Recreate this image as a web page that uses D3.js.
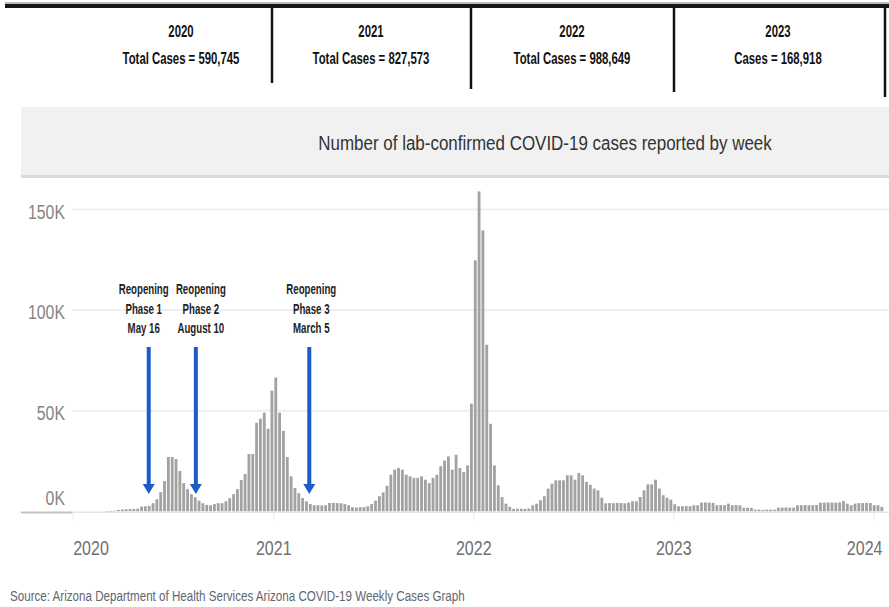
<!DOCTYPE html>
<html>
<head>
<meta charset="utf-8">
<script src="https://cdn.jsdelivr.net/npm/d3@7"></script>
<style>
  body { margin: 0; background: #fff; }
  svg { display: block; font-family: "Liberation Sans Narrow", "Arial Narrow", "Liberation Sans", Arial, sans-serif; }
</style>
</head>
<body>
<svg id="chart"></svg>
<script>
// ---- data ----
const firstWeek = "2020-03-01";   // week start of the first bar, one bar per week

const cases2020 = [20, 100, 300, 700, 900, 1000, 1100, 1200, 1300, 2300, 2500, 2700, 4000, 6000, 9500, 15000,
  27000, 27000, 26000, 20000, 14000, 11000, 8500, 7000, 5300, 4000, 3200, 3000, 3600, 4000, 4000, 5000,
  6500, 8500, 11000, 15500, 18500, 28500, 28500, 44000, 46000, 49000, 41000, 60000];
const cases2021 = [66500, 49000, 40000, 27000, 17400, 11600, 9000, 6600, 5000, 3600, 3000, 3000, 2900, 3000,
  4100, 4200, 4100, 4000, 3600, 3000, 2000, 1900, 2000, 2100, 2500, 3600, 5300, 7500, 9400, 12700, 18200,
  20700, 21500, 20700, 18200, 17400, 16600, 16600, 17400, 15700, 14000, 16600, 18200, 22400, 25200, 27300,
  20700, 28100, 21500, 19500, 22800, 53500];
const cases2022 = [124700, 159000, 139600, 82800, 43500, 22800, 12900, 7100, 3800, 2200, 1200, 1300, 1300,
  1200, 1400, 3000, 3800, 5500, 7500, 11300, 13700, 15400, 15400, 15400, 17900, 17900, 15700, 19000, 17900,
  14600, 13200, 11300, 10400, 6800, 4000, 4100, 4000, 4200, 4100, 4000, 4300, 5000, 5000, 7100, 10400,
  13400, 13400, 15700, 11300, 8000, 6800, 5800];
const cases2023 = [3500, 2500, 2500, 2600, 2500, 3000, 3000, 4300, 4400, 4300, 4200, 3000, 3100, 3000, 3800,
  3000, 3100, 3000, 1800, 1800, 1700, 800, 800, 700, 800, 800, 800, 1800, 1800, 1900, 1800, 1800, 3000,
  3000, 3100, 3000, 3000, 3100, 4300, 4300, 4400, 4300, 4300, 4400, 5100, 3800, 3000, 3800, 4100, 4100,
  4200, 4100];
const cases2024 = [3000, 3000, 2200];

const yearHeads = ["2020", "2021", "2022", "2023"];
const yearTotals = ["Total Cases = 590,745", "Total Cases = 827,573", "Total Cases = 988,649", "Cases = 168,918"];

const phaseNames = ["Phase 1", "Phase 2", "Phase 3"];
const phaseDates = ["2020-05-16", "2020-08-10", "2021-03-05"];
const phaseDateLabels = ["May 16", "August 10", "March 5"];

const yTicks = [0, 50000, 100000, 150000];
const xTickYears = ["2020", "2021", "2022", "2023", "2024"];

const chartTitle = "Number of lab-confirmed COVID-19 cases reported by week";
const sourceNote = "Source:  Arizona Department of Health Services Arizona COVID-19 Weekly Cases Graph";

// ---- setup ----
const width = 889, height = 607;
const parse = d3.timeParse("%Y-%m-%d");
const weekly = cases2020.concat(cases2021, cases2022, cases2023, cases2024);
const start = parse(firstWeek);
const weeks = weekly.map((v, i) => ({ date: d3.timeWeek.offset(start, i), value: v }));

const svg = d3.select("#chart").attr("width", width).attr("height", height);

const x = d3.scaleTime()
  .domain([parse("2020-01-01"), parse("2024-01-01")])
  .range([72.7, 873.3]);
const y = d3.scaleLinear().domain([0, 150000]).range([511.3, 209.5]);

// the source uses a condensed face: squeeze texts horizontally around their anchor
function squeeze(sel, factor) {
  sel.each(function () {
    const el = d3.select(this);
    const x0 = +el.attr("x") || 0, y0 = +el.attr("y") || 0;
    el.attr("x", 0).attr("y", 0).attr("transform", `translate(${x0},${y0}) scale(${factor},1)`);
  });
}
function factorFor(str, target, font) {
  const t = svg.append("text").attr("style", font).text(str);
  const f = target / t.node().getComputedTextLength();
  t.remove();
  return f;
}

// ---- header: yearly totals ----
svg.append("rect").attr("x", 5).attr("y", 2).attr("width", width - 5).attr("height", 3).attr("fill", "#bbb");
svg.append("rect").attr("x", 5).attr("y", 4).attr("width", width - 5).attr("height", 4).attr("fill", "#161616");

const sepX = [272, 471, 674, 885];
const sepBottom = [83, 89, 92, 97];
svg.selectAll(".sep").data(sepX).join("line")
  .attr("x1", d => d).attr("x2", d => d)
  .attr("y1", 7).attr("y2", (d, i) => sepBottom[i])
  .attr("stroke", "#111").attr("stroke-width", 2.5);

const headCenters = [181, 371, 572, 778];
const headFont = "font-size:16px;font-weight:bold;fill:#111";
const fHead = factorFor(yearTotals[0], 117, headFont);
const heads = svg.selectAll(".head").data(yearHeads).join("g")
  .attr("transform", (d, i) => `translate(${headCenters[i]},0)`);
heads.append("text").attr("y", 37).attr("text-anchor", "middle").attr("style", headFont).text(d => d);
heads.append("text").attr("y", 64).attr("text-anchor", "middle").attr("style", headFont)
  .text((d, i) => yearTotals[i]);
squeeze(heads.selectAll("text"), fHead);

// ---- title band ----
svg.append("rect").attr("x", 21).attr("y", 107).attr("width", width - 21).attr("height", 70).attr("fill", "#f1f1f1");
svg.append("rect").attr("x", 21).attr("y", 175).attr("width", width - 21).attr("height", 3).attr("fill", "#dadada");
const titleFont = "font-size:21px;fill:#333";
const title = svg.append("text").attr("x", 545).attr("y", 150).attr("text-anchor", "middle")
  .attr("style", titleFont).text(chartTitle);
squeeze(title, factorFor(chartTitle, 454, titleFont));

// ---- grid and y axis ----
svg.selectAll(".grid").data(yTicks.filter(d => d > 0)).join("line")
  .attr("x1", 71.7).attr("x2", width)
  .attr("y1", d => y(d)).attr("y2", d => y(d))
  .attr("stroke", "#efefef").attr("stroke-width", 2);

const yFont = "font-size:21px;fill:#858585";
const yLabels = svg.selectAll(".ylab").data(yTicks).join("text")
  .attr("x", 65).attr("text-anchor", "end").attr("dy", "0.35em")
  .attr("y", d => d === 0 ? y(d) - 14 : y(d) + 2)
  .attr("style", yFont)
  .text(d => d3.format("d")(d / 1000) + "K");
squeeze(yLabels, factorFor("150K", 37, yFont));

// ---- bars ----
const barW = x(d3.timeWeek.offset(start, 1)) - x(start);
svg.append("g").selectAll("rect").data(weeks).join("rect")
  .attr("x", d => x(d.date))
  .attr("width", barW - 1)
  .attr("y", d => y(d.value))
  .attr("height", d => Math.max(0.6, y(0) - y(d.value)))
  .attr("fill", "#a2a2a2");

// baseline and x axis
svg.append("line").attr("x1", 21).attr("x2", 72).attr("y1", 512.5).attr("y2", 512.5)
  .attr("stroke", "#c4c4c4").attr("stroke-width", 2);
svg.append("line").attr("x1", 72).attr("x2", width).attr("y1", 512.3).attr("y2", 512.3)
  .attr("stroke", "#e4e4e4").attr("stroke-width", 1.5);

const xAxis = svg.append("g").attr("transform", "translate(0,513)")
  .call(d3.axisBottom(x).tickValues(xTickYears.map(d => parse(d + "-01-01"))).tickSize(8).tickFormat(d3.timeFormat("%Y")));
xAxis.select(".domain").remove();
xAxis.selectAll(".tick line").attr("stroke", "#e8e8e8");
const xFont = "font-size:21px;fill:#707070;font-family:'Liberation Sans Narrow','Arial Narrow','Liberation Sans',Arial,sans-serif";
const fX = factorFor("2020", 35.7, xFont);
xAxis.selectAll(".tick text").attr("style", xFont).attr("x", 0).attr("y", 42).attr("dy", 0);
// keep end labels inside the frame, like the source
xAxis.selectAll(".tick text").each(function (d, i, n) {
  const w = this.getComputedTextLength() * fX;
  const cx = x(d);
  if (i === 0) d3.select(this).attr("text-anchor", "start");
  if (i === n.length - 1 && cx + w / 2 > width - 7) d3.select(this).attr("x", width - 7 - w / 2 - cx);
});
squeeze(xAxis.selectAll(".tick text"), fX);

// ---- reopening annotations ----
const annFont = "font-size:14px;font-weight:bold;fill:#1e1e1e";
const fAnn = factorFor("Reopening", 50, annFont);
const labelShift = [-5, 5, 2];
const ann = svg.selectAll(".ann").data(phaseDates).join("g")
  .attr("transform", d => `translate(${x(parse(d)) + 1.5},0)`);
ann.append("rect").attr("x", -2).attr("width", 4).attr("y", 347).attr("height", 138).attr("fill", "#1c5cc8");
ann.append("path").attr("d", "M-6,484L6,484L0,494Z").attr("fill", "#1c5cc8");
const annText = ann.append("text").attr("text-anchor", "middle").attr("style", annFont)
  .attr("transform", (d, i) => `translate(${labelShift[i]},0) scale(${fAnn},1)`);
annText.append("tspan").attr("x", 0).attr("y", 294).text("Reopening");
annText.append("tspan").attr("x", 0).attr("y", 314).text((d, i) => phaseNames[i]);
annText.append("tspan").attr("x", 0).attr("y", 333).text((d, i) => phaseDateLabels[i]);

// ---- source ----
const srcFont = "font-size:15px;fill:#5f6670";
const src = svg.append("text").attr("x", 10).attr("y", 601).attr("style", srcFont).text(sourceNote);
squeeze(src, factorFor(sourceNote, 455, srcFont));
</script>
</body>
</html>
